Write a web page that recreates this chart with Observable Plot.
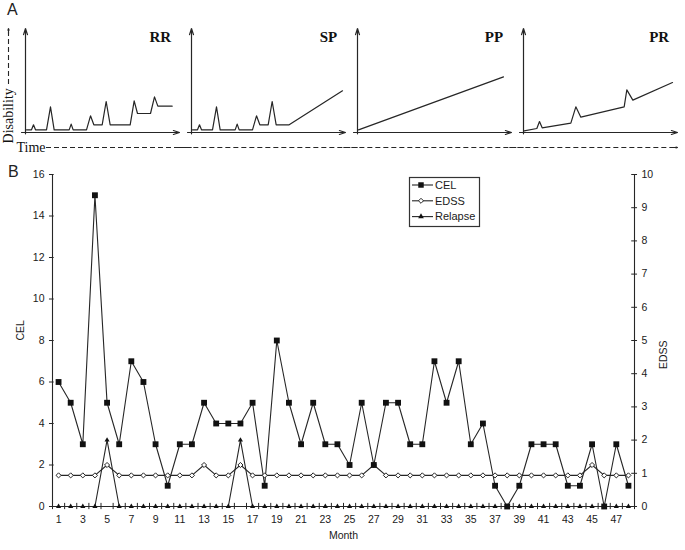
<!DOCTYPE html>
<html><head><meta charset="utf-8">
<script src="https://cdn.jsdelivr.net/npm/d3@7"></script>
<script src="https://cdn.jsdelivr.net/npm/@observablehq/plot@0.6"></script>
<style>
body{margin:0;background:#fff;}
#wrap{position:relative;width:685px;height:550px;overflow:hidden;font-family:"Liberation Sans",Arial,sans-serif;}
#panelA{position:absolute;left:0;top:0;}
#panelB{position:absolute;left:0;top:160px;}
.lab{position:absolute;font-size:16px;line-height:16px;color:#222;}
#legend{position:absolute;left:405px;top:172px;}
svg{overflow:visible;}
</style></head><body>
<div id="wrap">
  <div id="panelA"></div>
  <div id="panelB"></div>
  <div class="lab" style="left:7px;top:2px">A</div>
  <div class="lab" style="left:8px;top:164px">B</div>
  <div id="legend"></div>
</div>
<script>
// ---------- Panel A: schematic disease courses (time t, disability d) ----------
const patterns = ["RR", "SP", "PP", "PR"];
const rrT = [3,18,24,30,63,75,86,131,137,143,183,195,205,230,242,254,314,326,336,375,387,397,440];
const rrD = [8,8,23,8,8,77,8,8,25,8,8,50,23,23,93,23,23,95,57,57,107,79,79];
const spT = [3,18,24,30,63,75,86,131,137,143,183,195,205,230,242,254,293,453];
const spD = [8,8,23,8,8,77,8,8,25,8,8,50,23,23,93,23,23,125];
const ppT = [3,438];
const ppD = [8,167];
const prT = [2,40,48,56,142,157,172,302,310,328,447];
const prD = [5,12,33,14,28,77,46,77,128,97,150];

// ---------- Panel B data ----------
const months = [1,2,3,4,5,6,7,8,9,10,11,12,13,14,15,16,17,18,19,20,21,22,23,24,
                25,26,27,28,29,30,31,32,33,34,35,36,37,38,39,40,41,42,43,44,45,46,47,48];
const cel = [6,5,3,15,5,3,7,6,3,1,3,3,5,4,4,4,5,1,8,5,3,5,3,3,
             2,5,2,5,5,3,3,7,5,7,3,4,1,0,1,3,3,3,1,1,3,0,3,1];
const edss = [1.5,1.5,1.5,1.5,2,1.5,1.5,1.5,1.5,1.5,1.5,1.5,2,1.5,1.5,2,1.5,1.5,1.5,1.5,1.5,1.5,1.5,1.5,
              1.5,1.5,2,1.5,1.5,1.5,1.5,1.5,1.5,1.5,1.5,1.5,1.5,1.5,1.5,1.5,1.5,1.5,1.5,1.5,2,1.5,1.5,1.5];
// relapse, on the right-hand (EDSS) axis
const relapse = [0,0,0,0,2,0,0,0,0,0,0,0,0,0,0,2,0,0,0,0,0,0,0,0,
                 0,0,0,0,0,0,0,0,0,0,0,0,0,0,0,0,0,0,0,0,0,0,0,0];
const xTickLabels = [1,3,5,7,9,11,13,15,17,19,21,23,25,27,29,31,33,35,37,39,41,43,45,47];
const celTicks = [0,2,4,6,8,10,12,14,16];
const edssTicks = [0,1,2,3,4,5,6,7,8,9,10];
const seriesNames = ["CEL", "EDSS", "Relapse"];

const ink = "#262626";
const k = 16 / 10; // right axis (0–10) onto left axis (0–16)

// ---------- Panel A plot ----------
const rowsA = [];
[["RR", rrT, rrD], ["SP", spT, spD], ["PP", ppT, ppD], ["PR", prT, prD]].forEach(([p, T, D]) =>
  T.forEach((t, i) => rowsA.push({panel: p, t, d: D[i]})));
const timeSegs = [{panel: "RR", a: 63, b: 500}, {panel: "SP", a: -41, b: 500},
                  {panel: "PP", a: -41, b: 500}, {panel: "PR", a: -41, b: 452}];
const serif = "'Liberation Serif','Times New Roman',serif";

const plotA = Plot.plot({
  width: 685, height: 160,
  marginLeft: 24, marginRight: 8, marginTop: 29, marginBottom: 28,
  fx: {domain: patterns, axis: null, paddingInner: 0.081, paddingOuter: 0},
  x: {domain: [0, 459], axis: null},
  y: {domain: [0, 309], axis: null},
  style: {overflow: "visible", background: "transparent"},
  marks: [
    Plot.arrow([0], {x1: 0, x2: 0, y1: -4, y2: 312, stroke: ink, strokeWidth: 1.2, headLength: 8, headAngle: 36}),
    Plot.arrow([0], {x1: -12, x2: 462, y1: 0, y2: 0, stroke: ink, strokeWidth: 1.2, headLength: 8, headAngle: 36}),
    Plot.line(rowsA, {fx: "panel", x: "t", y: "d", z: "panel", stroke: ink, strokeWidth: 1.2}),
    Plot.text(patterns, {fx: d => d, x: 437, y: 287, text: d => d, textAnchor: "end",
      fontFamily: serif, fontWeight: "bold", fontSize: 15, fill: "#111"}),
    // Time dashed arrow
    Plot.ruleY(timeSegs, {fx: "panel", y: -45, x1: "a", x2: "b", stroke: ink, strokeWidth: 1.1, strokeDasharray: "5,3"}),
    Plot.arrow([0], {fx: () => "PR", x1: 448, x2: 462, y1: -45, y2: -45, stroke: ink, strokeWidth: 1.1, headLength: 7, headAngle: 40}),
    Plot.text(["Time"], {fx: () => "RR", x: -27, y: -45, textAnchor: "start", fontFamily: serif, fontSize: 14, fill: "#111"}),
    // Disability dashed arrow
    Plot.text(["Disability"], {fx: () => "RR", x: -51, y: 50, rotate: -90, textAnchor: "middle",
      fontFamily: serif, fontSize: 14, fill: "#111"}),
    Plot.ruleX([0], {fx: () => "RR", x: -51, y1: 144, y2: 300, stroke: ink, strokeWidth: 1.1, strokeDasharray: "5,3"}),
    Plot.arrow([0], {fx: () => "RR", x1: -51, x2: -51, y1: 296, y2: 312, stroke: ink, strokeWidth: 1.1, headLength: 7, headAngle: 40})
  ]
});
document.getElementById("panelA").append(plotA);

// ---------- Panel B plot ----------
const dataB = months.map((m, i) => ({month: m, cel: cel[i], edss: edss[i], relapse: relapse[i] * k}));
const xTickPos = d3.range(0.5, 48.6, 1);

const plotB = Plot.plot({
  width: 685, height: 390,
  marginLeft: 52, marginRight: 51, marginTop: 14, marginBottom: 44,
  x: {domain: [0.5, 48.5], axis: null},
  y: {domain: [0, 16], axis: null},
  style: {fontFamily: "'Liberation Sans',Arial,sans-serif", fontSize: "10.5px", color: "#1a1a1a",
          overflow: "visible", background: "transparent"},
  marks: [
    Plot.ruleY([0], {stroke: ink, strokeWidth: 1.1}),
    Plot.ruleX([0.5], {stroke: ink, strokeWidth: 1.1}),
    Plot.ruleX([48.5], {stroke: ink, strokeWidth: 1.1}),
    Plot.ruleX(xTickPos, {x: d => d, y1: -0.15, y2: 0.15, stroke: ink, strokeWidth: 1}),
    Plot.ruleY(celTicks, {y: d => d, x1: 0.25, x2: 0.64, stroke: ink, strokeWidth: 1}),
    Plot.ruleY(edssTicks, {y: d => d * k, x1: 48.27, x2: 48.75, stroke: ink, strokeWidth: 1}),
    Plot.axisX(xTickLabels, {anchor: "bottom", tickSize: 0, tickPadding: 9, label: null}),
    Plot.axisY(celTicks, {anchor: "left", tickSize: 0, tickPadding: 8, label: null}),
    Plot.axisY(edssTicks.map(v => v * k), {anchor: "right", tickSize: 0, tickPadding: 7,
      tickFormat: v => String(Math.round(v / k)), label: null}),
    Plot.text(["CEL"], {frameAnchor: "left", dx: -32, rotate: -90, fontSize: 10.5, fill: "#1a1a1a"}),
    Plot.text(["EDSS"], {frameAnchor: "right", dx: 29, rotate: -90, fontSize: 10.5, fill: "#1a1a1a"}),
    Plot.text(["Month"], {frameAnchor: "bottom", dy: 32, fontSize: 10.5, fill: "#1a1a1a"}),
    Plot.line(dataB, {x: "month", y: "relapse", stroke: ink, strokeWidth: 1.1}),
    Plot.line(dataB, {x: "month", y: "edss", stroke: ink, strokeWidth: 1.1}),
    Plot.line(dataB, {x: "month", y: "cel", stroke: ink, strokeWidth: 1.1}),
    Plot.dot(dataB, {x: "month", y: "relapse", symbol: "triangle", r: 1.9, fill: "#111"}),
    Plot.dot(dataB, {x: "month", y: "edss", symbol: "diamond2", r: 2.3, fill: "white", stroke: ink, strokeWidth: 1}),
    Plot.dot(dataB, {x: "month", y: "cel", symbol: "square", r: 3.3, fill: "#111"})
  ]
});
document.getElementById("panelB").append(plotB);

// ---------- Legend ----------
const leg = d3.select("#legend").append("svg").attr("width", 82).attr("height", 58);
leg.append("rect").attr("x", 4.5).attr("y", 5.5).attr("width", 70).attr("height", 49)
  .attr("fill", "white").attr("stroke", "#333").attr("stroke-width", 1.2);
const legSymbols = [d3.symbolSquare, d3.symbolDiamond2, d3.symbolTriangle];
const legSizes = [30, 16, 14];
seriesNames.forEach((name, i) => {
  const y = 13 + i * 15.8;
  const g = leg.append("g");
  g.append("line").attr("x1", 7).attr("x2", 28).attr("y1", y).attr("y2", y).attr("stroke", ink).attr("stroke-width", 1.1);
  g.append("path").attr("d", d3.symbol(legSymbols[i], legSizes[i])())
    .attr("transform", `translate(16,${y})`)
    .attr("fill", i === 1 ? "white" : "#111").attr("stroke", i === 1 ? ink : "none");
  g.append("text").attr("x", 30).attr("y", y).attr("dy", "0.35em")
    .attr("font-family", "'Liberation Sans',Arial,sans-serif").attr("font-size", 11).attr("fill", "#1a1a1a").text(name);
});
</script>
</body></html>
